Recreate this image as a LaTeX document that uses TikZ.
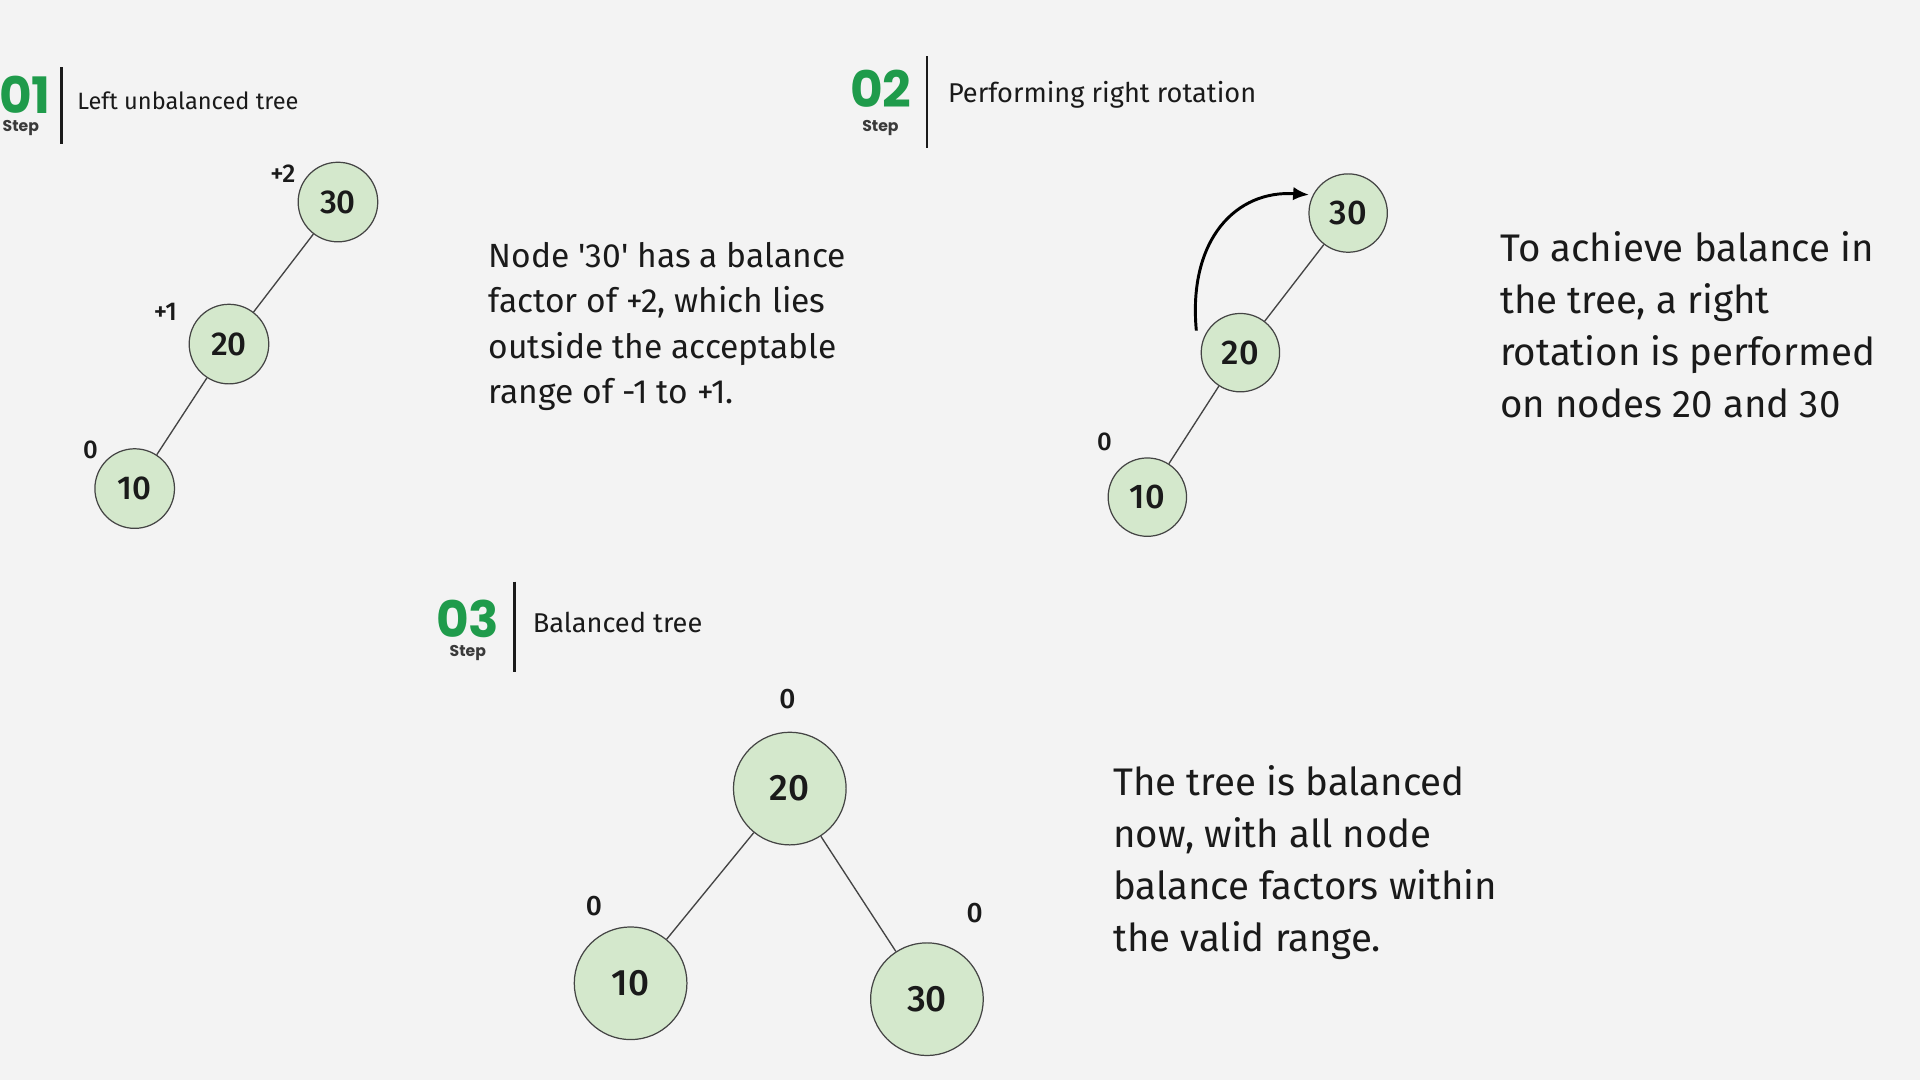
\documentclass[tikz,border=0pt]{standalone}
\usepackage{fontspec}
\setmainfont{Fira Sans}
\newfontfamily\nodefont{Fira Sans}[UprightFont={* Medium}]
\newfontfamily\plainquote{Fira Sans}[Ligatures=ResetAll]
\newfontfamily\popfont{Poppins}
\usetikzlibrary{arrows.meta}
\newcommand{\sq}{{\plainquote\char"27}}
\definecolor{bgcol}{HTML}{F3F3F3}
\definecolor{nodefill}{HTML}{D4E8CC}
\definecolor{stepgreen}{HTML}{1F9B4B}
\definecolor{stepgray}{HTML}{3A3A3A}
\definecolor{txtcol}{HTML}{1A1A1A}
\definecolor{edgecol}{HTML}{444444}
\tikzset{
  tnode/.style={circle, draw=edgecol, line width=1pt, fill=nodefill, minimum size=#1, inner sep=0pt, text=txtcol},
  tedge/.style={draw=edgecol, line width=1.1pt},
  bal/.style={font=\nodefont\fontsize{#1}{#1}\selectfont, text=txtcol, inner sep=0pt},
  stepnum/.style={font=\popfont\bfseries\fontsize{41}{41}\selectfont, text=stepgreen, inner sep=0pt, anchor=base west},
  steplbl/.style={font=\popfont\bfseries\fontsize{12.8}{12.8}\selectfont, text=stepgray, inner sep=0pt, anchor=base},
  stepbar/.style={draw=txtcol, line width=2.2pt},
  headtxt/.style={font=\fontsize{#1}{#1}\selectfont, text=txtcol, inner sep=0pt, anchor=base west},
  desctxt/.style={font=\fontsize{#1}{#1}\selectfont, text=txtcol, inner sep=0pt, anchor=base west},
}
\begin{document}
\begin{tikzpicture}[x=1pt,y=-1pt]
\fill[bgcol] (0,0) rectangle (1568,882);
\useasboundingbox (0,0) rectangle (1568,882);

% ---------- Step 01 ----------
\node[stepnum] (s1num) at (-1,93) {01};
\node[steplbl] (s1lbl) at (17,107) {Step};
\coordinate (s1bt) at (50,55);
\coordinate (s1bb) at (50,118);
\draw[stepbar] (s1bt) -- (s1bb);
\node[headtxt=19.3] (s1head) at (63,89.7) {Left unbalanced tree};

\node[tnode=65pt, font=\nodefont\fontsize{27}{27}\selectfont] (a30) at (276,165) {30};
\node[tnode=65pt, font=\nodefont\fontsize{27}{27}\selectfont] (a20) at (187,281) {20};
\node[tnode=65pt, font=\nodefont\fontsize{27}{27}\selectfont] (a10) at (110,399) {10};
\draw[tedge] (a30) -- (a20);
\draw[tedge] (a20) -- (a10);
\node[bal=21] (a30b) at (231,142) {+2};
\node[bal=21] (a20b) at (135,255) {+1};
\node[bal=21] (a10b) at (74,367) {0};

\foreach \t [count=\i] in {Node \sq30\sq{} has a balance,{factor of +2, which lies},outside the acceptable,range of -1 to +1.}
  \node[desctxt=27.4] (d1l\i) at (399,{218.5+37*(\i-1)}) {\t};

% ---------- Step 02 ----------
\node[stepnum] (s2num) at (694,88) {02};
\node[steplbl] (s2lbl) at (719,107) {Step};
\coordinate (s2bt) at (757,46);
\coordinate (s2bb) at (757,121);
\draw[stepbar] (s2bt) -- (s2bb);
\node[headtxt=22.2] (s2head) at (774,83.7) {Performing right rotation};

\node[tnode=64pt, font=\nodefont\fontsize{28}{28}\selectfont] (b30) at (1101,174) {30};
\node[tnode=64pt, font=\nodefont\fontsize{28}{28}\selectfont] (b20) at (1013,288) {20};
\node[tnode=64pt, font=\nodefont\fontsize{28}{28}\selectfont] (b10) at (937,406) {10};
\draw[tedge] (b30) -- (b20);
\draw[tedge] (b20) -- (b10);
\node[bal=21] (b10b) at (902,361) {0};
\coordinate (rotstart) at (977,270);
\draw[line width=2.4pt, -{Latex[length=13pt,width=11pt]}, shorten >=3pt]
  (rotstart) .. controls (970,195) and (1010,155) .. (b30.153);

\foreach \t [count=\i] in {To achieve balance in,{the tree, a right},rotation is performed,on nodes 20 and 30}
  \node[desctxt=31.4] (d2l\i) at (1225,{213.8+42.3*(\i-1)}) {\t};

% ---------- Step 03 ----------
\node[stepnum] (s3num) at (356,521) {03};
\node[steplbl] (s3lbl) at (382,536) {Step};
\coordinate (s3bt) at (420,475);
\coordinate (s3bb) at (420,549);
\draw[stepbar] (s3bt) -- (s3bb);
\node[headtxt=22.2] (s3head) at (435,516.7) {Balanced tree};

\node[tnode=92pt, font=\nodefont\fontsize{30}{30}\selectfont] (c20) at (645,644) {20};
\node[tnode=92pt, font=\nodefont\fontsize{30}{30}\selectfont] (c10) at (515,803) {10};
\node[tnode=92pt, font=\nodefont\fontsize{30}{30}\selectfont] (c30) at (757,816) {30};
\draw[tedge] (c20) -- (c10);
\draw[tedge] (c20) -- (c30);
\node[bal=23] (c20b) at (643,571) {0};
\node[bal=23] (c10b) at (485,740) {0};
\node[bal=23] (c30b) at (796,746) {0};

\foreach \t [count=\i] in {The tree is balanced,{now, with all node},balance factors within,the valid range.}
  \node[desctxt=31.4] (d3l\i) at (909,{649.8+42.3*(\i-1)}) {\t};
\end{tikzpicture}
\end{document}
